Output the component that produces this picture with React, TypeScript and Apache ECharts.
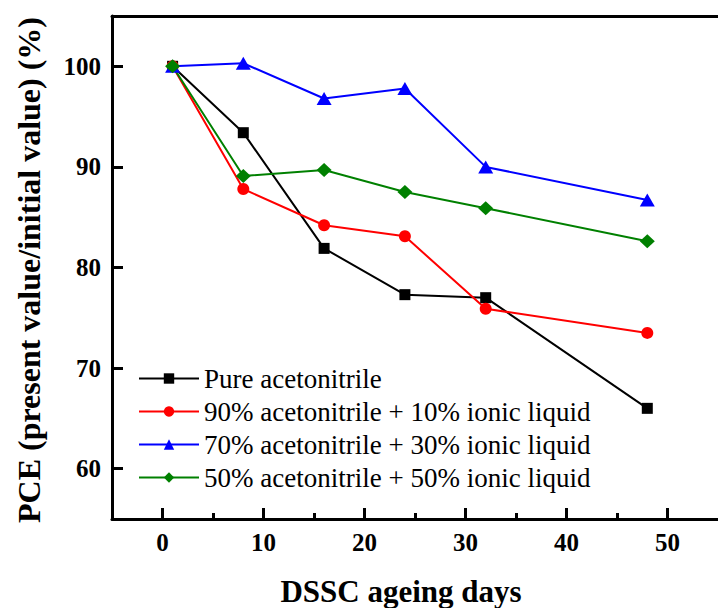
import React, { useEffect, useRef } from "react";
import * as echarts from "echarts";

const days = [1, 8, 16, 24, 32, 48];
const pureAcetonitrile = [100, 93.4, 81.9, 77.3, 77.0, 66.0];
const acn90 = [100, 87.8, 84.2, 83.1, 75.9, 73.5];
const acn70 = [100, 100.3, 96.8, 97.8, 90.0, 86.7];
const acn50 = [100, 89.1, 89.7, 87.5, 85.9, 82.6];
const seriesNames = [
  "Pure acetonitrile",
  "90% acetonitrile + 10% ionic liquid",
  "70% acetonitrile + 30% ionic liquid",
  "50% acetonitrile + 50% ionic liquid",
];
const xMajorTicks = [0, 10, 20, 30, 40, 50];
const xMinorTicks = [5, 15, 25, 35, 45];
const yTicks = [60, 70, 80, 90, 100];
const xTitle = "DSSC ageing days";
const yTitle = "PCE (present value/initial value) (%)";

const FONT = "Liberation Serif";

export default function App() {
  const ref = useRef<HTMLDivElement>(null);
  useEffect(() => {
    if (!ref.current) return;
    const chart = echarts.init(ref.current, null, { renderer: "svg" });
    const pair = (ys: number[]) => days.map((d, i) => [d, ys[i]]);
    const mk = (name: string, ys: number[], color: string, symbol: string, size: any) => ({
      name,
      type: "line",
      data: pair(ys),
      symbol,
      symbolSize: size,
      itemStyle: { color },
      lineStyle: { color, width: 2 },
      xAxisIndex: 0,
      yAxisIndex: 0,
    });
    const labelStyle = {
      color: "#000",
      fontFamily: FONT,
      fontWeight: "bold",
      fontSize: 25,
    };
    chart.setOption({
      animation: false,
      backgroundColor: "#fff",
      textStyle: { fontFamily: FONT },
      grid: { left: 112, top: 16, right: -7, bottom: 89, containLabel: false },
      legend: {
        orient: "vertical",
        left: 133,
        top: 360,
        itemWidth: 60,
        itemHeight: 13,
        itemGap: 6,
        textStyle: { fontFamily: FONT, fontSize: 27, color: "#000", lineHeight: 27 },
        data: seriesNames,
      },
      xAxis: [
        {
          type: "value",
          min: -5,
          max: 55,
          position: "bottom",
          axisLine: { show: true, onZero: false, lineStyle: { color: "#000", width: 3 } },
          axisTick: { show: true, inside: true, length: 11, lineStyle: { color: "#000", width: 3 }, customValues: xMajorTicks },
          axisLabel: { ...labelStyle, margin: 11, customValues: xMajorTicks },
          splitLine: { show: false },
        },
        {
          type: "value",
          min: -5,
          max: 55,
          position: "bottom",
          axisLine: { show: false, onZero: false },
          axisTick: { show: true, inside: true, length: 6, lineStyle: { color: "#000", width: 3 }, customValues: xMinorTicks },
          axisLabel: { show: false },
          splitLine: { show: false },
        },
        {
          type: "value",
          min: -5,
          max: 55,
          position: "top",
          axisLine: { show: true, onZero: false, lineStyle: { color: "#000", width: 3 } },
          axisTick: { show: false },
          axisLabel: { show: false },
          splitLine: { show: false },
        },
      ],
      yAxis: [
        {
          type: "value",
          min: 55,
          max: 105,
          position: "left",
          axisLine: { show: true, onZero: false, lineStyle: { color: "#000", width: 3 } },
          axisTick: { show: true, inside: true, length: 11, lineStyle: { color: "#000", width: 3 }, customValues: yTicks },
          axisLabel: { ...labelStyle, margin: 11, customValues: yTicks },
          splitLine: { show: false },
        },
      ],
      graphic: [
        {
          type: "text",
          x: 401,
          y: 591,
          style: {
            text: xTitle,
            fontFamily: FONT,
            fontWeight: "bold",
            fontSize: 31,
            fill: "#000",
            align: "center",
            verticalAlign: "middle",
          },
        },
        {
          type: "text",
          x: 29,
          y: 270,
          rotation: Math.PI / 2,
          style: {
            text: yTitle,
            fontFamily: FONT,
            fontWeight: "bold",
            fontSize: 32,
            fill: "#000",
            align: "center",
            verticalAlign: "middle",
          },
        },
      ],
      series: [
        mk(seriesNames[0], pureAcetonitrile, "#000000", "rect", 11),
        mk(seriesNames[1], acn90, "#ff0000", "circle", 12),
        mk(seriesNames[2], acn70, "#0000ff", "triangle", [15, 13]),
        mk(seriesNames[3], acn50, "#008000", "diamond", [15, 14]),
      ],
    });
    return () => chart.dispose();
  }, []);
  return (
    <div
      ref={ref}
      style={{ position: "absolute", left: 0, top: 0, width: 718, height: 608 }}
    />
  );
}
